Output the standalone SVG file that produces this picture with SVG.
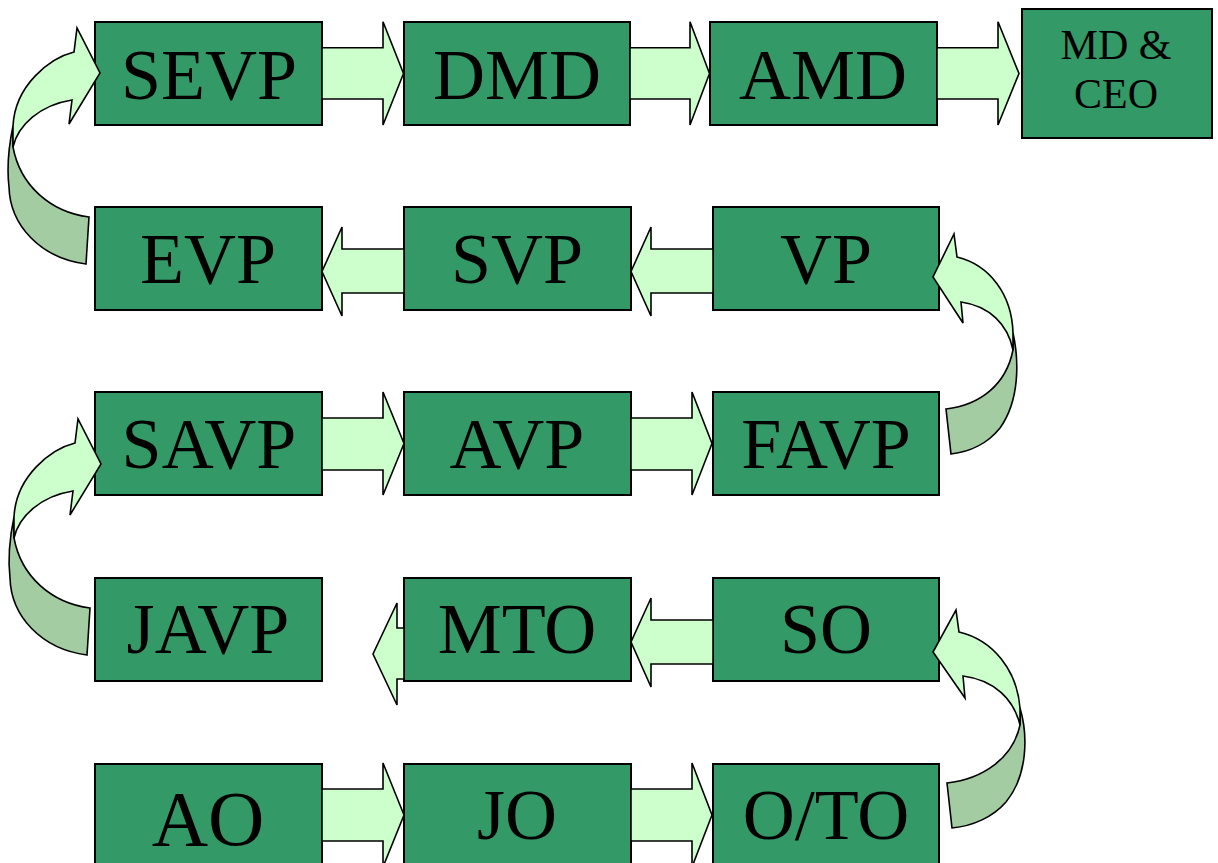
<svg xmlns="http://www.w3.org/2000/svg" width="1218" height="863" viewBox="0 0 1218 863">
<style>
.box{fill:#339966;stroke:#000;stroke-width:2}
.lbl{font-family:"Liberation Serif","Times New Roman",serif;font-size:72px;fill:#000;text-anchor:middle}
.arr{fill:#ccffcc;stroke:#000;stroke-width:1.6;stroke-linejoin:miter}
.back{fill:#a3cca3;stroke:#000;stroke-width:1.6}
</style>
<rect width="1218" height="863" fill="#fff"/>
<g id="nodes">
<g id="n-sevp"><rect class="box" x="95" y="22" width="227" height="103"/><text class="lbl" x="209" y="99">SEVP</text></g>
<g id="n-dmd"><rect class="box" x="404" y="22" width="226" height="103"/><text class="lbl" x="517" y="99">DMD</text></g>
<g id="n-amd"><rect class="box" x="710" y="22" width="227" height="103"/><text class="lbl" x="823" y="99">AMD</text></g>
<g id="n-mdceo"><rect class="box" x="1022" y="9" width="190" height="129"/><text class="lbl" style="font-size:42px" x="1116" y="59">MD &amp;</text><text class="lbl" style="font-size:42px" x="1116" y="108">CEO</text></g>
<g id="n-evp"><rect class="box" x="95" y="207" width="227" height="103"/><text class="lbl" x="208" y="283">EVP</text></g>
<g id="n-svp"><rect class="box" x="404" y="207" width="227" height="103"/><text class="lbl" x="517" y="283">SVP</text></g>
<g id="n-vp"><rect class="box" x="713" y="207" width="226" height="103"/><text class="lbl" x="826" y="283">VP</text></g>
<g id="n-savp"><rect class="box" x="95" y="392" width="227" height="103"/><text class="lbl" x="209" y="468">SAVP</text></g>
<g id="n-avp"><rect class="box" x="404" y="392" width="227" height="103"/><text class="lbl" x="517" y="468">AVP</text></g>
<g id="n-favp"><rect class="box" x="713" y="392" width="226" height="103"/><text class="lbl" x="826" y="468">FAVP</text></g>
<g id="n-javp"><rect class="box" x="95" y="578" width="227" height="103"/><text class="lbl" x="208" y="653">JAVP</text></g>
<g id="n-mto"><rect class="box" x="404" y="578" width="227" height="103"/><text class="lbl" x="517" y="653">MTO</text></g>
<g id="n-so"><rect class="box" x="713" y="578" width="226" height="103"/><text class="lbl" x="826" y="653">SO</text></g>
<g id="n-ao"><rect class="box" x="95" y="764" width="227" height="110"/><text class="lbl" style="font-size:78px" x="208" y="845">AO</text></g>
<g id="n-jo"><rect class="box" x="404" y="764" width="227" height="110"/><text class="lbl" x="517" y="839">JO</text></g>
<g id="n-oto"><rect class="box" x="713" y="764" width="226" height="110"/><text class="lbl" x="826" y="839">O/TO</text></g>
</g>
<g id="connectors">
<!-- row 1 -->
<polygon class="arr" points="322,47.7 383,47.7 383,21.7 403.5,73.5 383,125 383,99 322,99"/>
<polygon class="arr" points="630,47.7 690,47.7 690,21.7 709.5,73.5 690,125 690,99 630,99"/>
<polygon class="arr" points="937,47.7 998,47.7 998,21.7 1019,73.5 998,125 998,99 937,99"/>
<!-- row 2 -->
<polygon class="arr" points="404,249 342,249 342,227 322,271.5 342,316 342,293 404,293"/>
<polygon class="arr" points="713,249 651,249 651,227 631,271.5 651,316 651,293 713,293"/>
<!-- row 3 -->
<polygon class="arr" points="322,418 383,418 383,392 404,443.5 383,495 383,470 322,470"/>
<polygon class="arr" points="631,418 692,418 692,392 712,443.5 692,495 692,470 631,470"/>
<!-- row 4 -->
<polygon class="arr" points="713,620 651,620 651,598 631,642 651,687 651,664 713,664"/>
<polygon class="arr" points="404,628 397,628 397,603 373,654 397,705 397,679 404,679"/>
<!-- row 5 -->
<polygon class="arr" points="322,789 383,789 383,763 404,815 383,867 383,841 322,841"/>
<polygon class="arr" points="631,789 692,789 692,763 712,815 692,867 692,841 631,841"/>
<!-- curved: EVP -> SEVP -->
<g id="c-left1">
<path class="back" d="M13,126 C8,150 7,170 9,187 C10,225 40,258 86,264 L89,217 C50,212 20,185 13,147 Z"/>
<path class="arr" d="M13,147 C18,125 40,105 72,100 L69,124 L100,73 L77,28 L74,52 C50,58 15,85 13,126 Z"/>
</g>
<!-- curved: JAVP -> SAVP -->
<g id="c-left2" transform="translate(1,391)">
<path class="back" d="M13,126 C8,150 7,170 9,187 C10,225 40,258 86,264 L89,217 C50,212 20,185 13,147 Z"/>
<path class="arr" d="M13,147 C18,125 40,105 72,100 L69,124 L100,73 L77,28 L74,52 C50,58 15,85 13,126 Z"/>
</g>
<!-- curved: FAVP -> VP -->
<g id="c-right1">
<path class="back" d="M1013,333 C1019,360 1020,400 1000,428 C988,443 970,452 951,454 L946,409 C980,405 1006,385 1013,350 Z"/>
<path class="arr" d="M1013,350 C1008,325 990,306 961,302 L963,323 L933,277 L954,234 L957,257 C990,265 1012,295 1013,333 Z"/>
</g>
<!-- curved: O/TO -> SO -->
<g id="c-right2">
<path class="back" d="M1020,708 C1028,735 1028,775 1006,802 C993,817 973,826 952,828 L947,783 C983,779 1013,758 1020,725 Z"/>
<path class="arr" d="M1020,725 C1014,700 995,680 963,676 L965,698 L933,652 L956,610 L959,632 C993,640 1017,670 1020,708 Z"/>
</g>
</g>
</svg>
